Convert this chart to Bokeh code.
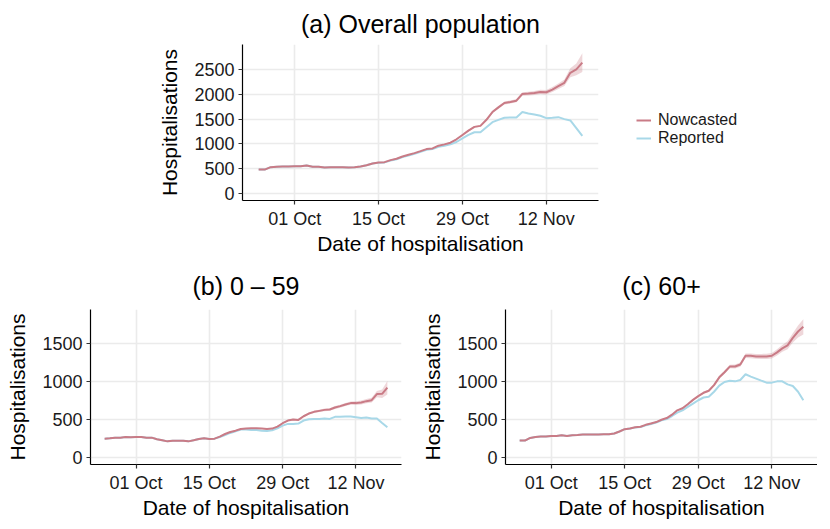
import pandas as pd
from bokeh.plotting import figure
from bokeh.layouts import column, row
from bokeh.models import (Range1d, FixedTicker, DatetimeTickFormatter, Legend,
                          LegendItem)
from bokeh.embed import file_html
from bokeh.resources import INLINE

# ---------------- data ----------------
start_date = "2021-09-25"
n_days = 55
dates = pd.date_range(start_date, periods=n_days)
tick_dates = ["2021-10-01", "2021-10-15", "2021-10-29", "2021-11-12"]
tick_labels = ["01 Oct", "15 Oct", "29 Oct", "12 Nov"]

overall_now = [481, 481, 529, 536, 542, 542, 549, 549, 563, 536,
               536, 522, 529, 529, 529, 522, 529, 542, 569, 603,
               624, 630, 671, 698, 745, 779, 813, 853, 894, 908,
               962, 989, 1023, 1091, 1179, 1267, 1342, 1362, 1484, 1640,
               1735, 1823, 1843, 1870, 2006, 2013, 2026, 2047, 2040, 2094,
               2162, 2230, 2433, 2501, 2637]
overall_rep = [481, 481, 529, 536, 542, 542, 549, 549, 563, 536,
               536, 522, 529, 529, 529, 522, 529, 542, 569, 603,
               620, 625, 662, 688, 732, 765, 798, 838, 880, 894,
               942, 962, 989, 1037, 1111, 1179, 1233, 1233, 1335, 1437,
               1484, 1525, 1532, 1532, 1640, 1613, 1593, 1566, 1518, 1525,
               1538, 1498, 1471, 1315, 1159]
overall_hw = [4, 4, 4, 4, 4, 4, 4, 4, 4, 4,
              4, 4, 4, 4, 4, 4, 5, 5, 5, 5,
              5, 5, 6, 6, 6, 7, 7, 8, 8, 9,
              10, 11, 12, 13, 14, 16, 18, 20, 22, 25,
              28, 30, 32, 34, 36, 38, 40, 42, 45, 50,
              55, 65, 90, 120, 190]

young_now = [248, 252, 261, 261, 270, 265, 270, 270, 261, 261,
             239, 226, 212, 221, 221, 221, 212, 226, 243, 252,
             243, 248, 274, 309, 336, 353, 375, 380, 384, 384,
             380, 375, 380, 407, 451, 486, 499, 495, 543, 579,
             601, 614, 627, 632, 658, 676, 698, 716, 716, 725,
             742, 755, 835, 839, 919]
young_rep = [248, 252, 261, 261, 270, 265, 270, 270, 261, 261,
             239, 226, 212, 221, 221, 221, 212, 226, 243, 252,
             243, 248, 270, 296, 323, 345, 367, 367, 362, 362,
             353, 349, 358, 384, 420, 442, 442, 446, 486, 504,
             508, 508, 513, 508, 535, 535, 539, 539, 530, 521,
             526, 513, 513, 455, 398]
young_hw = [3, 3, 3, 3, 3, 3, 3, 3, 3, 3,
            3, 3, 3, 3, 3, 3, 3, 3, 4, 4,
            4, 4, 4, 4, 4, 5, 5, 5, 5, 5,
            6, 6, 7, 8, 9, 10, 11, 12, 13, 14,
            15, 16, 17, 18, 19, 20, 21, 22, 24, 26,
            28, 32, 40, 55, 90]

old_now = [222, 222, 257, 270, 275, 275, 284, 284, 293, 284,
           293, 297, 302, 302, 302, 302, 306, 306, 315, 342,
           373, 382, 399, 404, 430, 448, 466, 497, 519, 564,
           621, 648, 701, 759, 808, 852, 879, 954, 1056, 1123,
           1198, 1198, 1225, 1340, 1340, 1332, 1332, 1332, 1340, 1385,
           1438, 1478, 1576, 1660, 1722]
old_rep = [222, 222, 257, 270, 275, 275, 284, 284, 293, 284,
           293, 297, 302, 302, 302, 302, 306, 306, 315, 342,
           373, 380, 396, 400, 425, 442, 460, 489, 506, 546,
           591, 621, 666, 710, 754, 790, 799, 866, 946, 995,
           1012, 1003, 1021, 1097, 1066, 1039, 1012, 986, 986, 1003,
           1003, 963, 941, 866, 754]
old_hw = [3, 3, 3, 3, 3, 3, 3, 3, 3, 3,
          3, 3, 3, 3, 3, 4, 4, 4, 4, 4,
          4, 4, 5, 5, 5, 5, 6, 6, 6, 6,
          8, 9, 10, 11, 12, 14, 16, 18, 20, 22,
          24, 26, 28, 30, 31, 32, 33, 34, 36, 40,
          45, 52, 62, 78, 100]

series_names = ["Nowcasted", "Reported"]
titles = ["(a) Overall population", "(b) 0 \u2013 59", "(c) 60+"]
y_ticks_top = [0, 500, 1000, 1500, 2000, 2500]
y_ticks_bottom = [0, 500, 1000, 1500]

# ---------------- style ----------------
RED = "#C97B86"
BLUE = "#A8D8E8"
FONT = "Liberation Sans"
GRID = "#EBEBEB"

tick_ms = [pd.Timestamp(d).value // 10**6 for d in tick_dates]
pad = pd.Timedelta(days=2.7)
x_start = dates[0] - pad
x_end = dates[-1] + pad


def make_panel(title, now, rep, hw, yticks, yr, fw, fh, bl, br, bt, bb, tstand):
    p = figure(x_axis_type="datetime", frame_width=fw, frame_height=fh,
               min_border_left=bl, min_border_right=br, min_border_top=bt,
               min_border_bottom=bb, toolbar_location=None, output_backend="svg",
               x_range=Range1d(x_start, x_end), y_range=Range1d(*yr),
               title=title)
    p.outline_line_color = None
    p.background_fill_color = "white"
    p.border_fill_color = "white"
    p.title.align = "center"
    p.title.text_font = FONT
    p.title.text_font_size = "25px"
    p.title.text_font_style = "normal"
    p.title.text_color = "black"
    p.title.standoff = tstand

    lower = [n - h for n, h in zip(now, hw)]
    upper = [n + h for n, h in zip(now, hw)]
    p.varea(x=dates, y1=lower, y2=upper, fill_color=RED, fill_alpha=0.3)
    r_rep = p.line(dates, rep, line_color=BLUE, line_width=2)
    r_now = p.line(dates, now, line_color=RED, line_width=2)

    p.xaxis.ticker = FixedTicker(ticks=tick_ms)
    p.xaxis.formatter = DatetimeTickFormatter(days="%d %b", months="%d %b",
                                              context=None)
    p.xaxis.major_label_overrides = {t: l for t, l in zip(tick_ms, tick_labels)}
    p.yaxis.ticker = FixedTicker(ticks=yticks)
    p.xgrid.ticker = FixedTicker(ticks=tick_ms)
    p.ygrid.ticker = FixedTicker(ticks=yticks)
    for g in (p.xgrid, p.ygrid):
        g.grid_line_color = GRID
        g.grid_line_width = 1.6
    p.xaxis.axis_label = "Date of hospitalisation"
    p.yaxis.axis_label = "Hospitalisations"
    for ax in (p.xaxis, p.yaxis):
        ax.axis_line_color = "black"
        ax.axis_line_width = 1.2
        ax.major_tick_line_color = "#333333"
        ax.major_tick_line_width = 1.2
        ax.major_tick_out = 4
        ax.major_tick_in = 0
        ax.minor_tick_out = 0
        ax.minor_tick_in = 0
        ax.major_label_text_font = FONT
        ax.major_label_text_font_size = "18px"
        ax.major_label_text_color = "#1a1a1a"
        ax.major_label_standoff = 4
        ax.axis_label_text_font = FONT
        ax.axis_label_text_font_size = "21px"
        ax.axis_label_text_font_style = "normal"
        ax.axis_label_text_color = "black"
    p.xaxis.axis_label_standoff = 0
    p.yaxis.axis_label_standoff = 10
    return p, r_now, r_rep


p_a, ra_now, ra_rep = make_panel(titles[0], overall_now, overall_rep, overall_hw,
                                 y_ticks_top, (-143, 3003), 356, 156,
                                 242, 216, 44, 59, 14)
legend = Legend(items=[LegendItem(label=series_names[0], renderers=[ra_now]),
                       LegendItem(label=series_names[1], renderers=[ra_rep])],
                location=(38, 53))
legend.border_line_color = None
legend.background_fill_alpha = 0
legend.padding = 5
legend.spacing = 0
legend.glyph_width = 15
legend.glyph_height = 18
legend.label_height = 18
legend.label_standoff = 7
legend.label_text_font = FONT
legend.label_text_font_size = "16px"
legend.label_text_color = "#1a1a1a"
p_a.add_layout(legend, "right")

p_b, _, _ = make_panel(titles[1], young_now, young_rep, young_hw,
                       y_ticks_bottom, (-93, 1950), 311, 155, 90, 12, 50, 51, 20)
p_c, _, _ = make_panel(titles[2], old_now, old_rep, old_hw,
                       y_ticks_bottom, (-93, 1950), 312, 155, 92, 0, 50, 51, 20)

layout = column(p_a, row(p_b, p_c, spacing=0), spacing=0)
open("out.html", "w").write(file_html(layout, INLINE))
